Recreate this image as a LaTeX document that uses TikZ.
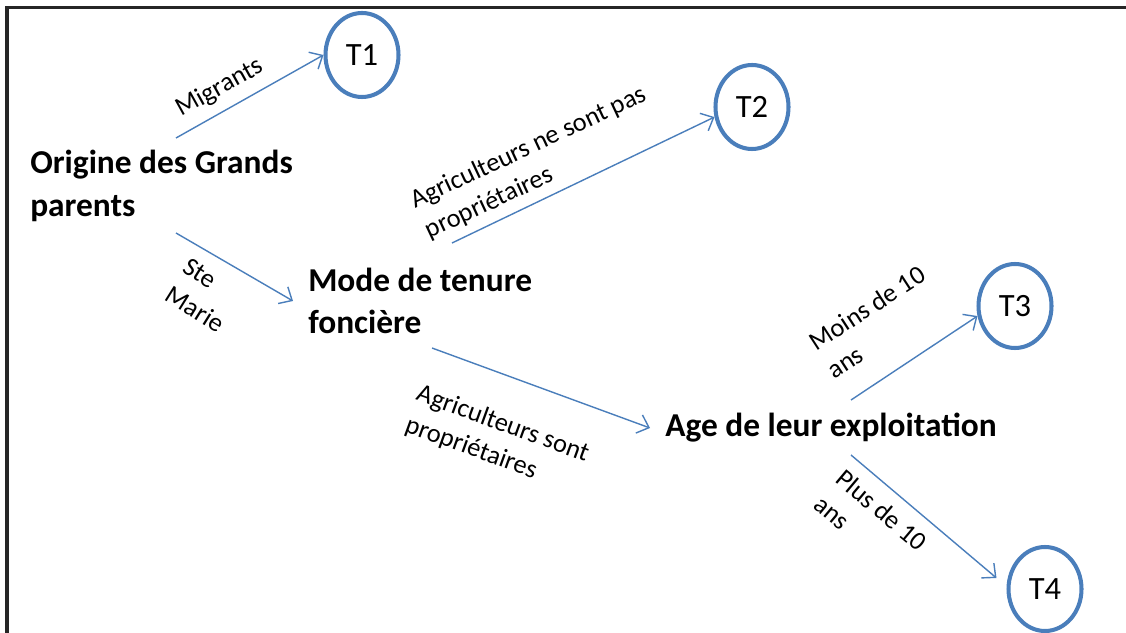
\documentclass[tikz,border=0pt]{standalone}
\usepackage{fontspec}
\setmainfont{Carlito}
\usepackage{tikz}
\usetikzlibrary{shapes.geometric, arrows.meta}

\definecolor{ofblue}{HTML}{4A7EBB}

\begin{document}
\begin{tikzpicture}[
    >={Straight Barb[length=6pt,width=11pt]},
    critere/.style={font=\fontsize{19}{24}\selectfont\bfseries, align=left, anchor=west, inner sep=8.5pt},
    typo/.style={ellipse, draw=ofblue, line width=2.3pt, minimum width=1.46cm, minimum height=1.68cm, inner sep=0pt, font=\fontsize{18.5}{22}\selectfont},
    lien/.style={ofblue, line width=0.8pt, ->},
    etiq/.style={font=\fontsize{15}{19}\selectfont, align=left, inner sep=0pt}
]
        \useasboundingbox (0,0) rectangle (22.52,12.64);
        \draw[line width=2.2pt, black!85] (0.14,-0.2) |- (22.8,12.49);

        % criteres
        \node[critere] (origine) at (0.3,8.92) {Origine des Grands\\parents};
        \node[critere] (mode) at (5.86,6.62) {Mode de tenure\\foncière};
        \node[critere] (age) at (13.0,4.08) {Age de leur exploitation};

        % types
        \node[typo] (t1) at (7.24,11.54) {T1};
        \node[typo] (t2) at (15.04,10.5) {T2};
        \node[typo] (t3) at (20.3,6.52) {T3};
        \node[typo] (t4) at (20.9,0.86) {T4};

        \coordinate (o-haut) at (3.52,9.88);
        \coordinate (o-bas) at (3.52,7.98);
        \coordinate (m-haut) at (9.04,7.78);
        \coordinate (m-bas) at (8.64,5.68);
        \coordinate (a-haut) at (17.02,4.64);
        \coordinate (a-bas) at (17.02,3.54);

        \draw[lien] (o-haut) -- (t1.west);
        \draw[lien] (o-bas) -- (mode.west);
        \draw[lien] (m-haut) -- (t2.195);
        \draw[lien] (m-bas) -- (age.west);
        \draw[lien] (a-haut) -- (t3.195);
        \draw[lien] (a-bas) -- ([shift={(-0.2,0.22)}]t4.west);

        \node[etiq, rotate=29] (l-migr) at (4.4,10.88) {Migrants};
        \node[etiq, rotate=-32] (l-ste) at (4.08,6.74) {Ste\\Marie};
        \node[etiq, rotate=25] (l-nonprop) at (10.72,9.38) {Agriculteurs ne sont pas\\propriétaires};
        \node[etiq, rotate=-20] (l-prop) at (9.94,3.84) {Agriculteurs sont\\propriétaires};
        \node[etiq, rotate=33] (l-moins) at (17.52,6.2) {Moins de 10\\ans};
        \node[etiq, rotate=-40] (l-plus) at (17.42,2.18) {Plus de 10\\ans};
\end{tikzpicture}
\end{document}
